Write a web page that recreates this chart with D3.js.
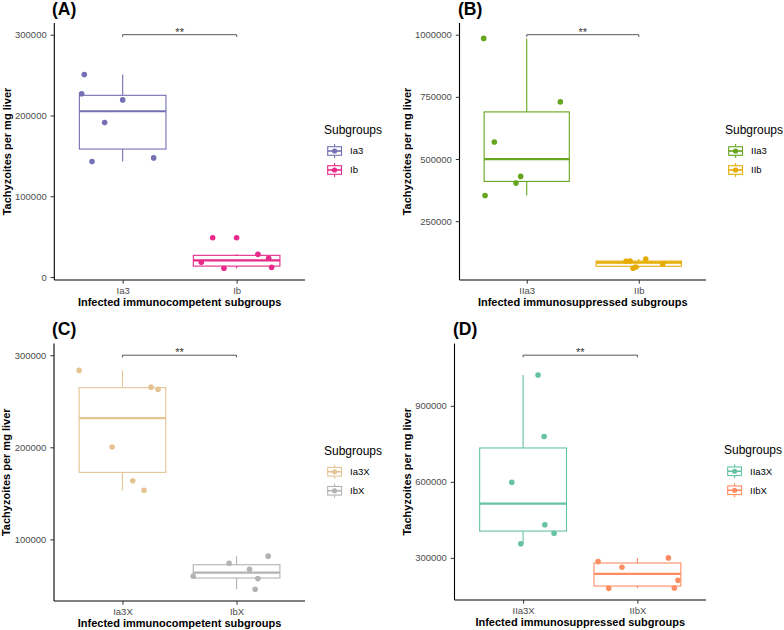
<!DOCTYPE html>
<html><head><meta charset="utf-8">
<script src="https://cdn.jsdelivr.net/npm/d3@7/dist/d3.min.js"></script>
<style>body{margin:0;background:#fff} svg{display:block}</style>
</head><body><svg id="chart" width="784" height="630"></svg>
<script>
// ---------------- DATA ----------------
const panelTags = ["(A)", "(B)", "(C)", "(D)"];
const xTitles = ["Infected immunocompetent subgroups", "Infected immunosuppressed subgroups",
                 "Infected immunocompetent subgroups", "Infected immunosuppressed subgroups"];
const yTitle = "Tachyzoites per mg liver";
const legendTitle = "Subgroups";
const significance = "**";

// Panel A
const categoriesA = ["Ia3", "Ib"];
const valuesIa3 = [250700, 226800, 219300, 191200, 142900, 147500];
const jitterIa3 = [-0.337, -0.36, 0.0, -0.158, -0.269, 0.272];
const valuesIb = [18200, 10800, 48700, 28100, 23200, 12000];
const jitterIb = [-0.31, -0.111, -0.21, 0.187, 0.281, 0.307];
const yTicksA = [0, 100000, 200000, 300000];
const bracketA = 300000;

// Panel B
const categoriesB = ["IIa3", "IIb"];
const valuesIIa3 = [985000, 729800, 568500, 430200, 403200, 353600];
const jitterIIa3 = [-0.384, 0.3, -0.289, -0.054, -0.096, -0.372];
const valuesIIb = [88700, 98000, 60500, 65700, 77800, 90000];
const jitterIIb = [-0.113, 0.0625, -0.051, -0.027, 0.214, -0.078];
const yTicksB = [250000, 500000, 750000, 1000000];
const bracketB = 1000000;

// Panel C
const categoriesC = ["Ia3X", "IbX"];
const valuesIa3X = [283500, 265300, 263100, 200200, 163600, 153300];
const jitterIa3X = [-0.38, 0.251, 0.312, -0.091, 0.09, 0.189];
const valuesIbX = [74100, 81800, 67600, 60000, 57400, 45800];
const jitterIbX = [-0.065, 0.277, 0.114, -0.38, 0.187, 0.163];
const yTicksC = [100000, 200000, 300000];
const bracketC = 300000;

// Panel D
const categoriesD = ["IIa3X", "IIbX"];
const valuesIIa3X = [1021500, 778900, 598000, 430600, 397400, 355400];
const jitterIIa3X = [0.131, 0.184, -0.099, 0.19, 0.271, -0.02];
const valuesIIbX = [285300, 299900, 262800, 211300, 179700, 181200];
const jitterIIbX = [-0.344, 0.271, -0.135, 0.355, -0.251, 0.323];
const yTicksD = [300000, 600000, 900000];
const bracketD = 1100000;

// ---------------- STYLE / LAYOUT ----------------
const FONT = '"Liberation Sans", Arial, sans-serif';
const colors = {
  Ia3: "#7570B3", Ib: "#E7298A", IIa3: "#66A61E", IIb: "#E6AB02",
  Ia3X: "#E5C494", IbX: "#B3B3B3", IIa3X: "#66C2A5", IIbX: "#FC8D62"
};
const panels = [
  {cats: categoriesA, vals: [valuesIa3, valuesIb], jit: [jitterIa3, jitterIb], ticks: yTicksA, bracket: bracketA,
   left: 54.3, right: 305, top: 23, bottom: 280, legX: 324, tagX: 52, tagY: 15},
  {cats: categoriesB, vals: [valuesIIa3, valuesIIb], jit: [jitterIIa3, jitterIIb], ticks: yTicksB, bracket: bracketB,
   left: 459.5, right: 706, top: 23, bottom: 280, legX: 725, tagX: 458, tagY: 15},
  {cats: categoriesC, vals: [valuesIa3X, valuesIbX], jit: [jitterIa3X, jitterIbX], ticks: yTicksC, bracket: bracketC,
   left: 54, right: 305, top: 343.5, bottom: 601, legX: 324, tagX: 52, tagY: 335},
  {cats: categoriesD, vals: [valuesIIa3X, valuesIIbX], jit: [jitterIIa3X, jitterIIbX], ticks: yTicksD, bracket: bracketD,
   left: 454.5, right: 706, top: 343.5, bottom: 600, legX: 724, tagX: 453, tagY: 335}
];

const svg = d3.select("#chart");

function boxStats(vals) {
  const s = vals.slice().sort(d3.ascending);
  const q1 = d3.quantileSorted(s, 0.25), med = d3.quantileSorted(s, 0.5), q3 = d3.quantileSorted(s, 0.75);
  const iqr = q3 - q1, lo = q1 - 1.5 * iqr, hi = q3 + 1.5 * iqr;
  const inside = s.filter(v => v >= lo && v <= hi);
  return {q1, med, q3, wlo: d3.min(inside), whi: d3.max(inside), out: s.filter(v => v < lo || v > hi)};
}

panels.forEach((p, pi) => {
  const g = svg.append("g");
  const x = d3.scaleLinear().domain([0.4, p.cats.length + 0.6]).range([p.left, p.right]);
  const lo = d3.min(p.vals.flat()), hi = p.bracket;
  const pad = (hi - lo) * 0.05;
  const y = d3.scaleLinear().domain([lo - pad, hi + pad]).range([p.bottom, p.top]);
  const boxW = 0.76;

  // boxes
  p.cats.forEach((cat, ci) => {
    const c = colors[cat];
    const st = boxStats(p.vals[ci]);
    const cx = x(ci + 1);
    const bg = g.append("g");
    bg.append("line").attr("x1", cx).attr("x2", cx).attr("y1", y(st.whi)).attr("y2", y(st.q3))
      .attr("stroke", c).attr("stroke-width", 1.1);
    bg.append("line").attr("x1", cx).attr("x2", cx).attr("y1", y(st.q1)).attr("y2", y(st.wlo))
      .attr("stroke", c).attr("stroke-width", 1.1);
    bg.append("rect").attr("x", x(ci + 1 - boxW / 2)).attr("width", x(ci + 1 + boxW / 2) - x(ci + 1 - boxW / 2))
      .attr("y", y(st.q3)).attr("height", y(st.q1) - y(st.q3))
      .attr("fill", "#fff").attr("stroke", c).attr("stroke-width", 1.1);
    bg.append("line").attr("x1", x(ci + 1 - boxW / 2)).attr("x2", x(ci + 1 + boxW / 2))
      .attr("y1", y(st.med)).attr("y2", y(st.med)).attr("stroke", c).attr("stroke-width", 2.2);
    bg.selectAll(".out").data(st.out).join("circle").attr("cx", cx).attr("cy", d => y(d))
      .attr("r", 2.8).attr("fill", c);
  });
  // jittered points
  p.cats.forEach((cat, ci) => {
    g.selectAll(null).data(p.vals[ci].map((v, i) => ({v, j: p.jit[ci][i]}))).join("circle")
      .attr("cx", d => x(ci + 1 + d.j)).attr("cy", d => y(d.v)).attr("r", 2.8).attr("fill", colors[cat]);
  });

  // axes
  const ya = g.append("g").attr("transform", `translate(${p.left},0)`)
    .call(d3.axisLeft(y).tickValues(p.ticks).tickFormat(d3.format("d")).tickSize(3.7).tickSizeOuter(0).tickPadding(3.9));
  const xa = g.append("g").attr("transform", `translate(0,${p.bottom})`)
    .call(d3.axisBottom(x).tickValues(p.cats.map((c, i) => i + 1)).tickFormat(i => p.cats[i - 1])
      .tickSize(3.7).tickSizeOuter(0).tickPadding(3.3));
  [ya, xa].forEach(a => {
    a.select(".domain").attr("stroke", "#000").attr("stroke-width", 1.1);
    a.selectAll(".tick line").attr("stroke", "#333").attr("stroke-width", 1);
    a.selectAll(".tick text").attr("fill", "#4D4D4D").style("font-family", FONT).style("font-size", "9.5px");
  });
  // fix y domain so it spans the whole panel
  ya.select(".domain").attr("d", `M0,${p.bottom}V${p.top}`);
  xa.select(".domain").attr("d", `M${p.left},0H${p.right}`);

  // measure widest y tick label
  let maxW = 0;
  ya.selectAll(".tick text").each(function () { maxW = Math.max(maxW, this.getComputedTextLength()); });
  const yTitleX = p.left - 3.7 - 3.9 - maxW - 4.3;

  g.append("text").attr("transform", `translate(${yTitleX},${(p.top + p.bottom) / 2}) rotate(-90)`)
    .attr("text-anchor", "middle").style("font-family", FONT).style("font-size", "11px").style("font-weight", "bold")
    .text(yTitle);
  g.append("text").attr("x", (p.left + p.right) / 2).attr("y", p.bottom + 26)
    .attr("text-anchor", "middle").style("font-family", FONT).style("font-size", "11px").style("font-weight", "bold")
    .text(xTitles[pi]);

  // tag
  g.append("text").attr("x", p.tagX).attr("y", p.tagY).style("font-family", FONT)
    .style("font-size", "17.6px").style("font-weight", "bold").text(panelTags[pi]);

  // significance bracket
  const yb = y(p.bracket);
  g.append("path").attr("d", `M${x(1)},${yb + 2.2}V${yb}H${x(2)}V${yb + 2.2}`)
    .attr("fill", "none").attr("stroke", "#444").attr("stroke-width", 0.9);
  g.append("text").attr("x", (x(1) + x(2)) / 2).attr("y", yb + 1).attr("text-anchor", "middle")
    .style("font-family", FONT).style("font-size", "11px").attr("fill", "#333").text(significance);

  // legend
  const cy = (p.top + p.bottom) / 2;
  const lg = g.append("g");
  const titleBase = cy - 17.5;
  lg.append("text").attr("x", p.legX).attr("y", titleBase).style("font-family", FONT)
    .style("font-size", "12px").attr("fill", "#000").text(legendTitle);
  p.cats.forEach((cat, ci) => {
    const c = colors[cat];
    const ky = titleBase + 17 + ci * 19;
    const kx = p.legX + 2 + 8.6;
    lg.append("line").attr("x1", kx).attr("x2", kx).attr("y1", ky - 7).attr("y2", ky + 7)
      .attr("stroke", c).attr("stroke-width", 1.1);
    lg.append("rect").attr("x", kx - 6.9).attr("y", ky - 4.3).attr("width", 13.8).attr("height", 8.6)
      .attr("fill", "#fff").attr("stroke", c).attr("stroke-width", 1.1);
    lg.append("line").attr("x1", kx - 6.9).attr("x2", kx + 6.9).attr("y1", ky).attr("y2", ky)
      .attr("stroke", c).attr("stroke-width", 1.6);
    lg.append("circle").attr("cx", kx).attr("cy", ky).attr("r", 2.6).attr("fill", c);
    lg.append("text").attr("x", p.legX + 26).attr("y", ky).attr("dy", "0.35em")
      .style("font-family", FONT).style("font-size", "9.5px").attr("fill", "#000").text(cat);
  });
});
</script></body></html>
